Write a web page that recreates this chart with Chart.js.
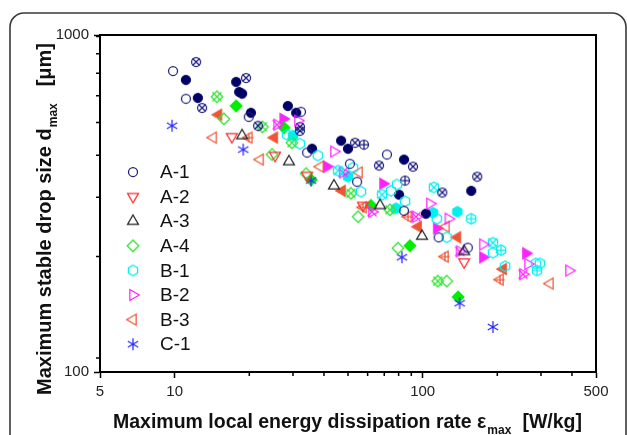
<!DOCTYPE html>
<html><head><meta charset="utf-8">
<script src="https://cdn.jsdelivr.net/npm/chart.js@4/dist/chart.umd.min.js"></script>
<style>html,body{margin:0;padding:0;background:#fff;}canvas{display:block;}</style>
</head><body>
<canvas id="c" width="627" height="435"></canvas>
<script>
// ---- axis ticks ----
const xTickValues = [5,10,20,30,40,50,60,70,80,90,100,200,300,400,500];
const xTickLabels = [5,10,100,500];
const yTickValues = [100,110,220,330,440,550,660,770,880,990,1000];
const yTickLabels = [100,1000];
const legendLabels = ['A-1','A-2','A-3','A-4','B-1','B-2','B-3','C-1'];

// ---- data: [epsilon_max (W/kg), d_max (um)] ----
const A1  = [[9.85,782],[11.1,647],[19.9,572],[32.3,592],[34.2,448],[50.9,415],[54.4,367],[71.8,442],[84.1,301],[116,251],[152,234]];
const A1f = [[11.1,736],[12.4,651],[17.7,726],[18.2,678],[18.7,670],[20.3,588],[28.6,616],[30.9,588],[35.8,460],[46.9,486],[50,460],[84.1,427],[80.3,336],[103,295],[157,345]];
const A1x = [[12.2,832],[12.9,608],[19.4,746],[21.7,538],[32,534],[32,520],[53.4,479],[66.7,410],[91.4,407],[120,341],[166,380]];
const A1p = [[58,473],[84.9,370]];
const A2  = [[17.0,499],[25.4,439],[34.2,383],[57.5,312],[147,212]];
const A3  = [[18.7,503],[28.9,421],[43.9,357],[67.3,312],[99.4,253],[147,228]];
const A4  = [[15.8,564],[24.7,442],[33.9,388],[54.9,289],[79.5,233],[125,186]];
const A4x = [[14.8,656],[22.6,534],[29.7,479],[51.4,339],[73.8,303],[115,186]];
const A4f = [[17.7,616],[27.6,531],[35.5,372],[61.9,312],[88.9,237],[139,167]];
const B1  = [[28.4,506],[32,476],[37.8,439],[52.4,404],[56.4,343],[74.5,345],[78.8,360],[84.9,321],[114,285],[125,251],[192,226],[215,206],[286,210],[297,210]];
const B1f = [[30,503],[50,380],[78.1,306],[110,297],[138,299]];
const B1x = [[45.6,396],[68.6,336],[111,353],[192,242]];
const B1p = [[157,285],[207,230],[289,200]];
const B2  = [[31.4,557],[43.9,451],[107,316],[127,285],[175,239],[266,209],[389,200]];
const B2f = [[27.4,564],[41.1,407],[69.2,362],[114,267],[175,219],[261,225]];
const B2x = [[25.9,542],[47.7,391],[62.5,299],[94,289],[141,228],[254,195]];
const B3  = [[14.3,496],[22.1,427],[38.6,407],[55.4,391],[124,270],[326,183]];
const B3f = [[15,580],[25.2,496],[47.3,345],[95.8,270],[138,251],[211,202]];
const B3x = [[19.9,496],[57.5,308],[87.3,289],[123,220],[205,188]];
const C1  = [[9.76,538],[18.9,457],[35.5,370],[82.5,219],[141,160],[192,136]];

// ---- marker glyphs ----
const NAVY='#1c1c80', NAVYF='#000066', RED='#ff2a2a', BLK='#222222', GRN='#33e633', GRNF='#00ee00',
      CYAN='#00f0f0', MAG='#ff22ff', TOM='#ee5535', BLUE='#2a2aff';
function shapePath(g, shape){
  g.beginPath();
  if(shape==='circle'){ g.arc(0,0,4.5,0,Math.PI*2); return; }
  if(shape==='diamond'){ g.moveTo(0,-5.8); g.lineTo(5.8,0); g.lineTo(0,5.8); g.lineTo(-5.8,0); g.closePath(); return; }
  if(shape==='hex'){ for(let k=0;k<6;k++){const a=(-90+60*k)*Math.PI/180; const px=5.3*Math.cos(a), py=5.3*Math.sin(a); k?g.lineTo(px,py):g.moveTo(px,py);} g.closePath(); return; }
  const dirs={up:-90,down:90,right:0,left:180};
  if(dirs[shape]!==undefined){ const d=dirs[shape]; for(let k=0;k<3;k++){const a=(d+120*k)*Math.PI/180; const r=6.3; const px=r*Math.cos(a), py=r*Math.sin(a); k?g.lineTo(px,py):g.moveTo(px,py);} g.closePath(); return; }
}
function marker(shape, color, mode){
  const S=18, c=document.createElement('canvas'); c.width=S; c.height=S;
  const g=c.getContext('2d'); g.translate(S/2,S/2);
  g.strokeStyle=color; g.fillStyle=color; g.lineWidth=1.25;
  if(shape==='star'){
    g.beginPath();
    [90,30,150].forEach(d=>{const a=d*Math.PI/180; g.moveTo(-6*Math.cos(a),-6*Math.sin(a)); g.lineTo(6*Math.cos(a),6*Math.sin(a));});
    g.stroke(); return c;
  }
  shapePath(g, shape);
  if(mode==='fill'){ g.fill(); }
  g.stroke();
  if(mode==='x'){ const d=shape==='circle'?3.5:4.5; g.beginPath(); g.moveTo(-d,-d); g.lineTo(d,d); g.moveTo(-d,d); g.lineTo(d,-d); g.stroke(); }
  if(mode==='plus'){ const d=4.7; g.beginPath(); g.moveTo(-d,0); g.lineTo(d,0); g.moveTo(0,-d); g.lineTo(0,d); g.stroke(); }
  return c;
}

const series = [
  {label:'A-1', data:A1,  style:marker('circle',NAVY,'open'), legend:true},
  {label:'A-2', data:A2,  style:marker('down',RED,'open'), legend:true},
  {label:'A-3', data:A3,  style:marker('up',BLK,'open'), legend:true},
  {label:'A-4', data:A4,  style:marker('diamond',GRN,'open'), legend:true},
  {label:'B-1', data:B1,  style:marker('hex',CYAN,'open'), legend:true},
  {label:'B-2', data:B2,  style:marker('right',MAG,'open'), legend:true},
  {label:'B-3', data:B3,  style:marker('left',TOM,'open'), legend:true},
  {label:'C-1', data:C1,  style:marker('star',BLUE,'open'), legend:true},
  {label:'A-1 (x)', data:A1x, style:marker('circle',NAVY,'x')},
  {label:'A-1 (+)', data:A1p, style:marker('circle',NAVY,'plus')},
  {label:'A-4 (x)', data:A4x, style:marker('diamond',GRN,'x')},
  {label:'B-1 (x)', data:B1x, style:marker('hex',CYAN,'x')},
  {label:'B-1 (+)', data:B1p, style:marker('hex',CYAN,'plus')},
  {label:'B-2 (x)', data:B2x, style:marker('right',MAG,'x')},
  {label:'B-3 (+)', data:B3x, style:marker('left',TOM,'plus')},
  {label:'A-1 (filled)', data:A1f, style:marker('circle',NAVYF,'fill')},
  {label:'A-4 (filled)', data:A4f, style:marker('diamond',GRNF,'fill')},
  {label:'B-1 (filled)', data:B1f, style:marker('hex',CYAN,'fill')},
  {label:'B-2 (filled)', data:B2f, style:marker('right',MAG,'fill')},
  {label:'B-3 (filled)', data:B3f, style:marker('left',TOM,'fill')}
];

const FONT = "'Liberation Sans', Arial, sans-serif";

const framePlugin = {
  id:'frame',
  beforeDraw(chart){
    const g=chart.ctx; g.save();
    g.strokeStyle='#3a3a3a'; g.lineWidth=1.6;
    g.beginPath(); g.roundRect(10,13,616,470,14); g.stroke();
    g.restore();
  },
  afterDraw(chart){
    const g=chart.ctx, a=chart.chartArea; g.save();
    g.strokeStyle='#000'; g.lineWidth=2;
    g.strokeRect(a.left,a.top,a.right-a.left,a.bottom-a.top);
    // minor ticks
    g.lineWidth=1.5; g.beginPath();
    const xs=chart.scales.x, ys=chart.scales.y;
    xs.ticks.forEach(t=>{ if(!xTickLabels.includes(t.value)){ const p=xs.getPixelForValue(t.value); g.moveTo(p,a.bottom); g.lineTo(p,a.bottom+4);} });
    ys.ticks.forEach(t=>{ if(!yTickLabels.includes(t.value)){ const p=ys.getPixelForValue(t.value); g.moveTo(a.left,p); g.lineTo(a.left-4,p);} });
    g.stroke();
    // legend
    g.fillStyle='#111'; g.font='19px '+FONT; g.textBaseline='middle'; g.textAlign='left';
    let k=0;
    chart.data.datasets.forEach(ds=>{
      if(!ds.inLegend) return;
      const y=172+k*24.6;
      g.drawImage(ds.pointStyle,133-ds.pointStyle.width/2,y-ds.pointStyle.height/2);
      g.fillText(ds.label,160,y+1);
      k++;
    });
    // x title
    g.textBaseline='alphabetic';
    g.font='bold 19.5px '+FONT; g.fillStyle='#111';
    const xt='Maximum local energy dissipation rate \u03B5';
    g.fillText(xt,113,428);
    const w=g.measureText(xt).width;
    g.font='bold 12px '+FONT; g.fillText('max',113+w+1,434);
    g.font='bold 19.5px '+FONT; g.textAlign='right'; g.fillText('[W/kg]',582,428);
    // y title
    g.save(); g.translate(51,395); g.rotate(-Math.PI/2);
    g.textAlign='left'; g.font='bold 20px '+FONT;
    const yt='Maximum stable drop size d';
    g.fillText(yt,0,0);
    const w2=g.measureText(yt).width;
    g.font='bold 12px '+FONT; g.fillText('max',w2+1,6);
    g.font='bold 20px '+FONT; g.textAlign='right'; g.fillText('[\u03BCm]',352,0);
    g.restore();
    g.restore();
  }
};

new Chart(document.getElementById('c'), {
  type:'scatter',
  data:{ datasets: series.map(s=>({
    label:s.label, inLegend:!!s.legend,
    data:s.data.map(p=>({x:p[0],y:p[1]})),
    pointStyle:s.style, pointRadius:5, showLine:false
  })) },
  options:{
    responsive:false, devicePixelRatio:1, animation:false,
    layout:{padding:{left:0,top:35,right:31,bottom:0}},
    plugins:{legend:{display:false}, tooltip:{enabled:false}},
    scales:{
      x:{ type:'logarithmic', min:5, max:500,
        afterBuildTicks:s=>{ s.ticks=xTickValues.map(v=>({value:v})); },
        afterFit:s=>{ s.height=63; },
        ticks:{ autoSkip:false, maxRotation:0, padding:5, color:'#222', font:{family:FONT,size:15},
          callback:v=> xTickLabels.includes(v)? String(v):'' },
        grid:{ drawOnChartArea:false, tickLength:6, tickWidth:1.5,
          tickColor:c=> (c.tick && xTickLabels.includes(c.tick.value))?'#000':'rgba(0,0,0,0)' },
        border:{ color:'#000', width:2 }
      },
      y:{ type:'logarithmic', min:100, max:1000,
        afterBuildTicks:s=>{ s.ticks=yTickValues.map(v=>({value:v})); },
        afterFit:s=>{ s.width=100; },
        ticks:{ autoSkip:false, padding:5, color:'#222', font:{family:FONT,size:15},
          callback:v=> yTickLabels.includes(v)? String(v):'' },
        grid:{ drawOnChartArea:false, tickLength:6, tickWidth:1.5,
          tickColor:c=> (c.tick && yTickLabels.includes(c.tick.value))?'#000':'rgba(0,0,0,0)' },
        border:{ color:'#000', width:2 }
      }
    }
  },
  plugins:[framePlugin]
});
</script>
</body></html>
